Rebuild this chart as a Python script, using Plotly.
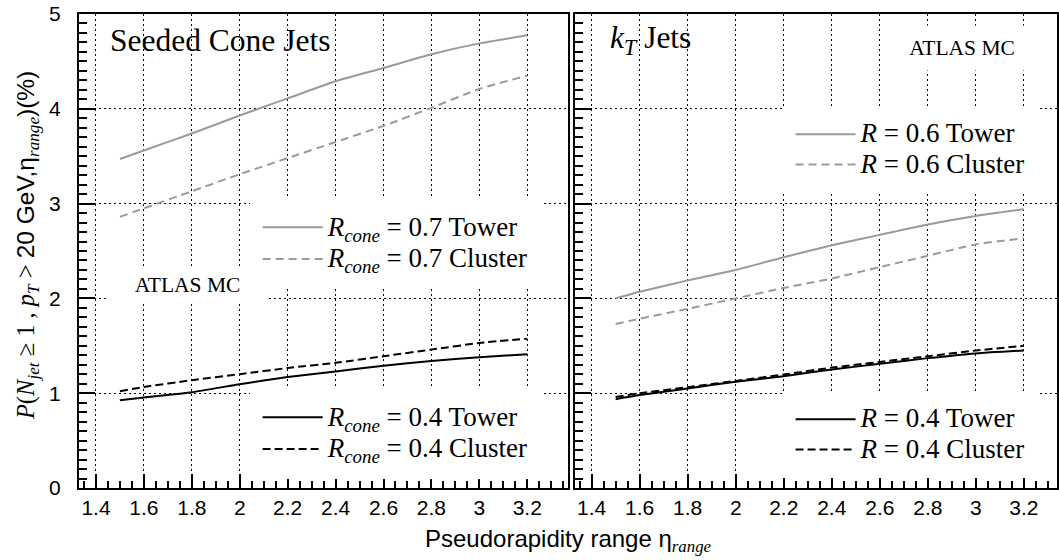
import plotly.graph_objects as go

# Pseudorapidity range values where the probabilities are evaluated
eta = [1.5, 1.6, 1.8, 2.0, 2.2, 2.4, 2.6, 2.8, 3.0, 3.2]

# Seeded cone jets, probability in %
cone07_tower = [3.47, 3.56, 3.74, 3.93, 4.11, 4.29, 4.43, 4.575, 4.69, 4.775]
cone07_cluster = [2.86, 2.95, 3.13, 3.31, 3.48, 3.65, 3.82, 4.01, 4.21, 4.35]
cone04_tower = [0.926, 0.955, 1.01, 1.095, 1.17, 1.23, 1.29, 1.34, 1.38, 1.41]
cone04_cluster = [1.02, 1.066, 1.137, 1.20, 1.266, 1.32, 1.39, 1.46, 1.53, 1.575]

# kT jets, probability in %
kt06_tower = [2.0, 2.07, 2.19, 2.30, 2.435, 2.56, 2.67, 2.78, 2.87, 2.94]
kt06_cluster = [1.73, 1.786, 1.89, 2.0, 2.11, 2.21, 2.33, 2.45, 2.57, 2.635]
kt04_tower = [0.937, 0.98, 1.05, 1.12, 1.18, 1.25, 1.31, 1.37, 1.42, 1.45]
kt04_cluster = [0.96, 1.0, 1.063, 1.13, 1.197, 1.27, 1.33, 1.39, 1.45, 1.50]

x_tickvals = [1.4, 1.6, 1.8, 2.0, 2.2, 2.4, 2.6, 2.8, 3.0, 3.2]
x_ticktext = ["1.4", "1.6", "1.8", "2", "2.2", "2.4", "2.6", "2.8", "3", "3.2"]
y_tickvals = [0, 1, 2, 3, 4, 5]
y_ticktext = ["0", "1", "2", "3", "4", "5"]

GRAY = "#9a9a9a"
SERIF = "Liberation Serif"
SANS = "Liberation Sans"

W, H = 1059, 560
L, R, T, B = 79, 0, 14, 72
PW, PH = W - L - R, H - T - B


def px(xp):
    return (xp - L) / PW


def py(yp):
    return (H - B - yp) / PH


def big(s):
    # legend labels are drawn larger than the row spacing font
    return '<span style="font-size:27px">' + s + "</span>"


fig = go.Figure()

series = [
    # (x axis, y axis, values, name, colour, dash, legend)
    ("x", "y", cone07_tower, "<i>R</i><sub><i>cone</i></sub> = 0.7 Tower", GRAY, "solid", "legend"),
    ("x", "y", cone07_cluster, "<i>R</i><sub><i>cone</i></sub> = 0.7 Cluster", GRAY, "8px,5px", "legend"),
    ("x", "y", cone04_tower, "<i>R</i><sub><i>cone</i></sub> = 0.4 Tower", "black", "solid", "legend2"),
    ("x", "y", cone04_cluster, "<i>R</i><sub><i>cone</i></sub> = 0.4 Cluster", "black", "8px,4px", "legend2"),
    ("x2", "y2", kt06_tower, "<i>R</i> = 0.6 Tower", GRAY, "solid", "legend3"),
    ("x2", "y2", kt06_cluster, "<i>R</i> = 0.6 Cluster", GRAY, "8px,5px", "legend3"),
    ("x2", "y2", kt04_tower, "<i>R</i> = 0.4 Tower", "black", "solid", "legend4"),
    ("x2", "y2", kt04_cluster, "<i>R</i> = 0.4 Cluster", "black", "8px,4px", "legend4"),
]
for xa, ya, vals, name, col, dash, leg in series:
    fig.add_trace(go.Scatter(
        x=eta, y=vals, mode="lines", name=big(name), xaxis=xa, yaxis=ya,
        line=dict(color=col, width=2, dash=dash, shape="spline", smoothing=0.5),
        legend=leg,
    ))

axis_common = dict(
    showline=True, linecolor="black", linewidth=2, mirror=True,
    ticks="inside", tickcolor="black", tickwidth=1.5,
    showgrid=True, gridcolor="black", gridwidth=1, griddash="2px,3px",
    zeroline=False,
    tickfont=dict(family=SANS, size=21, color="black"),
)

xaxis_common = dict(
    axis_common, tickmode="array", tickvals=x_tickvals, ticktext=x_ticktext,
    ticklen=14, ticklabelstandoff=0,
    minor=dict(ticks="inside", ticklen=7, tickcolor="black", tickwidth=1.5,
               tickmode="linear", tick0=1.4, dtick=0.05, showgrid=False),
)
yaxis_common = dict(
    axis_common, tickmode="array", tickvals=y_tickvals, ticktext=y_ticktext,
    ticklen=16, range=[0, 5], ticklabelstandoff=12,
    minor=dict(ticks="inside", ticklen=8, tickcolor="black", tickwidth=1.5,
               tickmode="linear", tick0=0, dtick=0.1, showgrid=False),
)


def legend_style(size, xp, yp):
    return dict(
        bgcolor="white", bordercolor="white", borderwidth=8,
        font=dict(family=SERIF, size=size, color="black"),
        itemwidth=60, xanchor="left", yanchor="top", tracegroupgap=0,
        x=px(xp), y=py(yp),
    )


fig.update_layout(
    width=W, height=H,
    margin=dict(l=L, r=R, t=T, b=B),
    paper_bgcolor="white", plot_bgcolor="white",
    xaxis=dict(xaxis_common, domain=[0, px(569.5)], range=[1.3292, 3.372], anchor="y"),
    xaxis2=dict(xaxis_common, domain=[px(576), 1], range=[1.3306, 3.338], anchor="y2"),
    yaxis=dict(yaxis_common, domain=[0, 1], anchor="x"),
    yaxis2=dict(yaxis_common, domain=[0, 1], anchor="x2", showticklabels=False),
    legend=legend_style(22, 250, 198.5),
    legend2=legend_style(22, 250, 388.5),
    legend3=legend_style(21, 784, 106),
    legend4=legend_style(21, 784, 391),
    showlegend=True,
)

annotations = [
    dict(text="Seeded Cone Jets", x=px(108), y=py(40), xanchor="left", yanchor="middle",
         font=dict(family=SERIF, size=31.5, color="black"), showarrow=False),
    dict(text="<i>k</i><sub><i>T</i></sub> Jets", x=px(609), y=py(40), xanchor="left",
         yanchor="middle", font=dict(family=SERIF, size=31.5, color="black"), showarrow=False),
    dict(text="ATLAS MC", x=px(188), y=py(285), xanchor="center", yanchor="middle",
         font=dict(family=SERIF, size=21.5, color="black"), showarrow=False,
         bgcolor="white", width=155, height=34),
    dict(text="ATLAS MC", x=px(964), y=py(48), xanchor="center", yanchor="middle",
         font=dict(family=SERIF, size=21.5, color="black"), showarrow=False,
         bgcolor="white", width=130, height=42),
    dict(text="Pseudorapidity range η<sub><span style=\"font-family:Liberation Serif\"><i>range</i></span></sub>",
         x=0.5, y=py(540), xanchor="center", yanchor="middle",
         font=dict(family=SANS, size=24, color="black"), showarrow=False),
    dict(text=("<span style=\"font-family:Liberation Serif\"><i>P</i>(<i>N</i><sub><i>jet</i></sub>"
               " ≥ 1 , <i>p</i><sub><i>T</i></sub> &gt; </span>20 GeV,η"
               "<sub><span style=\"font-family:Liberation Serif\"><i>range</i></span></sub>)(%)"),
         x=px(27), y=py(246), xanchor="center", yanchor="middle", textangle=-90,
         font=dict(family=SANS, size=24.5, color="black"), showarrow=False),
]
for a in annotations:
    a["xref"] = "paper"
    a["yref"] = "paper"
fig.update_layout(annotations=annotations)

fig.write_html("out.html")
